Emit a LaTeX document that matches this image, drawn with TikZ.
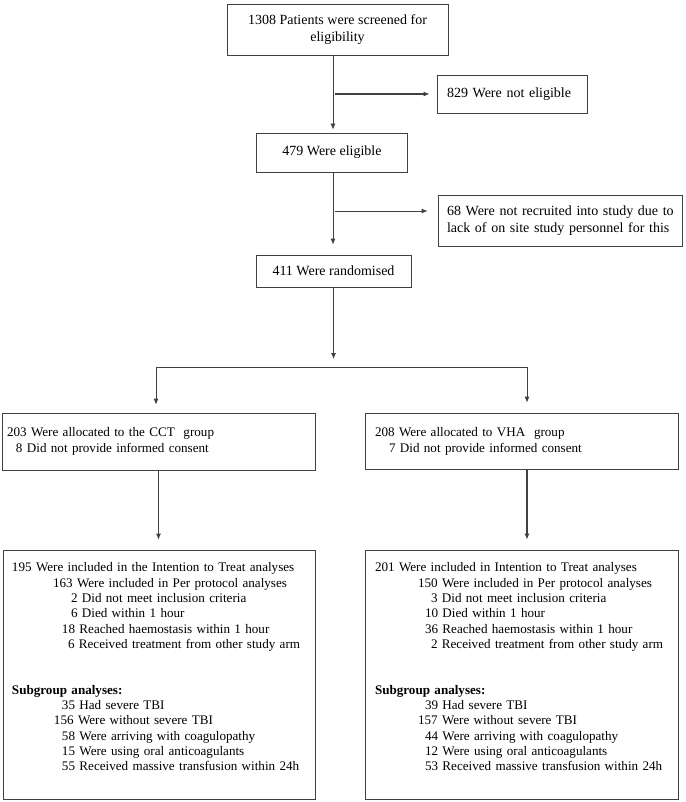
\documentclass[tikz,border=0pt]{standalone}
\usepackage{fontspec}
\setmainfont{Liberation Serif}
\usepackage{tikz}
\usetikzlibrary{arrows.meta}
\definecolor{cline}{rgb}{0.25,0.25,0.25}

\begin{document}
\begin{tikzpicture}[x=1pt,y=-1pt,>={Latex[length=6pt,width=5pt]},line width=0.8pt,draw=cline,
  main box/.style={draw=cline,line width=0.8pt,inner sep=0pt,align=center,font=\fontsize{14}{16.5}\selectfont},
  side box/.style={draw=cline,line width=0.8pt,inner ysep=0pt,inner xsep=9pt,align=left,font=\fontsize{14}{16.5}\selectfont},
  group box/.style={draw=cline,line width=0.8pt,inner ysep=0pt,align=left,font=\fontsize{13.1}{16}\selectfont},
  result box/.style={draw=cline,line width=0.8pt,inner ysep=0pt,align=left,font=\fontsize{13.1}{15.3}\selectfont}]
  \useasboundingbox (0,0) rectangle (685,802);

  \node[main box,minimum width=221pt,minimum height=51pt] (screen) at (337.5,29.5) {1308 Patients were screened for\\eligibility};
  \node[side box,inner xsep=10pt,text width=130pt,minimum height=38pt] (noteligible) at (512,94) {829 Were not eligible};
  \node[main box,minimum width=151pt,minimum height=39pt] (eligible) at (332,152.5) {479 Were eligible};
  \node[side box,text width=226pt,minimum height=51pt] (notrecruited) at (560,220.5) {\mbox{68 Were not recruited into study due to}\\lack of on site study personnel for this};
  \node[main box,minimum width=155pt,minimum height=32pt] (randomised) at (333.5,271) {411 Were randomised};

  \node[group box,inner xsep=5pt,text width=303pt,minimum height=57pt] (cct) at (158.5,441.5) {203 Were allocated to the CCT~ group\\\hspace*{9pt}8 Did not provide informed consent};
  \node[group box,inner xsep=10pt,text width=293pt,minimum height=56pt] (vha) at (521.5,441) {208 Were allocated to VHA~ group\\\hspace*{14pt}7 Did not provide informed consent};

  \node[result box,inner xsep=9pt,text width=294pt,minimum height=249pt] (cctres) at (159,674.5) {195 Were included in the Intention to Treat analyses\\
    \hspace*{41pt}163 Were included in Per protocol analyses\\
    \hspace*{59pt}2 Did not meet inclusion criteria\\
    \hspace*{59pt}6 Died within 1 hour\\
    \hspace*{50pt}18 Reached haemostasis within 1 hour\\
    \hspace*{56pt}6 Received treatment from other study arm\\[30.6pt]
    \textbf{Subgroup analyses:}\\
    \hspace*{50pt}35 Had severe TBI\\
    \hspace*{42pt}156 Were without severe TBI\\
    \hspace*{50pt}58 Were arriving with coagulopathy\\
    \hspace*{50pt}15 Were using oral anticoagulants\\
    \hspace*{50pt}55 Received massive transfusion within 24h\\
    \mbox{}};
  \node[result box,inner xsep=10pt,text width=293pt,minimum height=249pt] (vhares) at (521.5,674.5) {201 Were included in Intention to Treat analyses\\
    \hspace*{43pt}150 Were included in Per protocol analyses\\
    \hspace*{56pt}3 Did not meet inclusion criteria\\
    \hspace*{50pt}10 Died within 1 hour\\
    \hspace*{50pt}36 Reached haemostasis within 1 hour\\
    \hspace*{56pt}2 Received treatment from other study arm\\[30.6pt]
    \textbf{Subgroup analyses:}\\
    \hspace*{50pt}39 Had severe TBI\\
    \hspace*{43pt}157 Were without severe TBI\\
    \hspace*{50pt}44 Were arriving with coagulopathy\\
    \hspace*{50pt}12 Were using oral anticoagulants\\
    \hspace*{50pt}53 Received massive transfusion within 24h\\
    \mbox{}};

  \coordinate (fork1) at (333,94);
  \coordinate (fork2) at (333,211);
  \coordinate (splitL) at (156,367);
  \coordinate (splitR) at (527,367);

  \draw[->,shorten >=3pt] (fork1 |- screen.south) -- (fork1 |- eligible.north);
  \draw[->,line width=1.2pt,shorten <=2pt,shorten >=7pt] (fork1) -- (noteligible.west);
  \draw[->,shorten >=10pt] (fork2 |- eligible.south) -- (fork2 |- randomised.north);
  \draw[->,shorten <=2pt,shorten >=10pt] (fork2) -- (fork2 -| notrecruited.west);
  \draw[->,shorten >=8pt] (randomised.south) -- (randomised.south |- splitL);
  \draw[->,shorten >=8pt] (splitR) -- (splitL) -- (splitL |- cct.north);
  \draw[->,shorten >=10pt] (splitL) -- (splitR) -- (splitR |- vha.north);
  \draw[->,shorten >=10pt] (cct.south) -- (cct.south |- cctres.north);
  \draw[->,line width=1.4pt,shorten >=10pt] (splitR |- vha.south) -- (splitR |- vhares.north);
\end{tikzpicture}
\end{document}
